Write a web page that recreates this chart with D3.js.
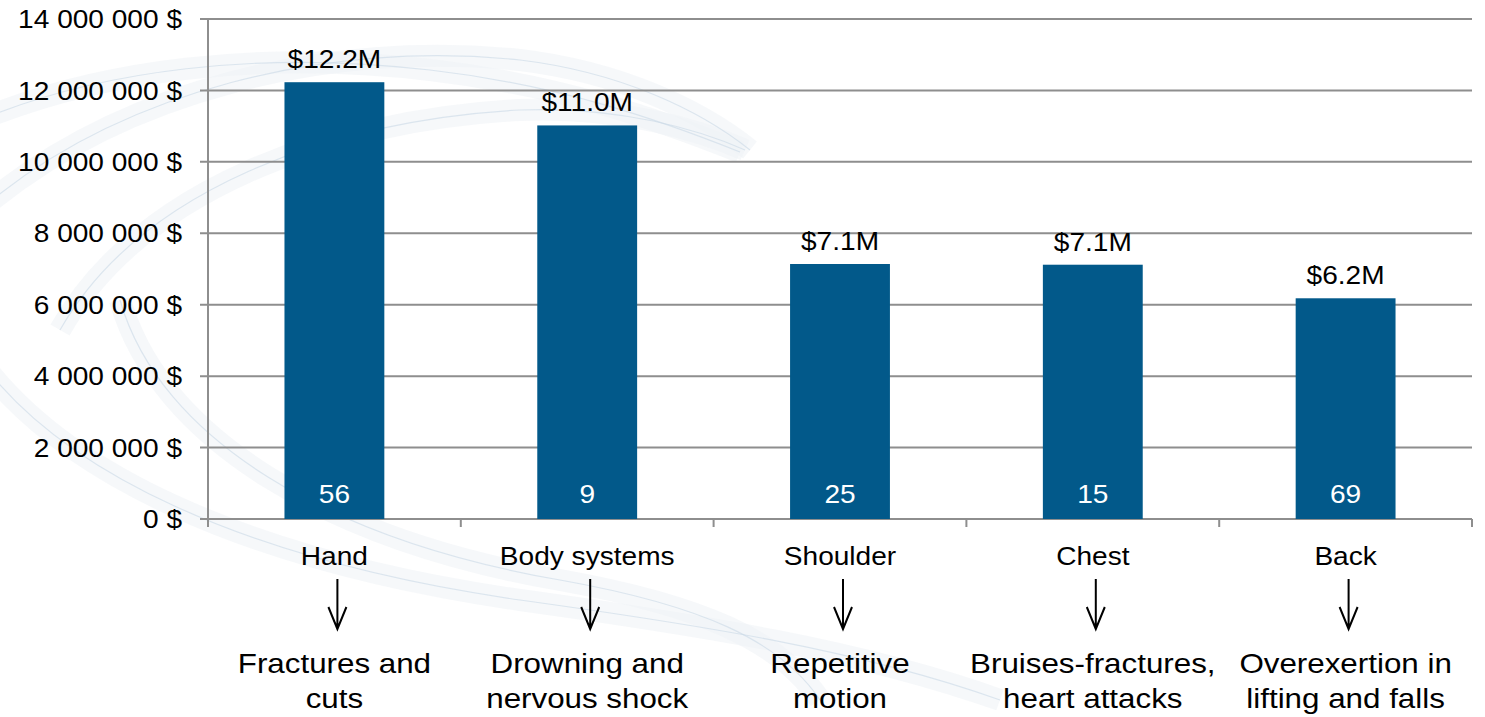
<!DOCTYPE html>
<html>
<head>
<meta charset="utf-8">
<script src="https://cdn.jsdelivr.net/npm/d3@7"></script>
<style>
  html, body { margin: 0; padding: 0; background: #fff; }
  svg { display: block; font-family: "Liberation Sans", Arial, sans-serif; }
</style>
</head>
<body>
<div id="chart"></div>
<script>
// data
var categories = ["Hand", "Body systems", "Shoulder", "Chest", "Back"];
var costs = [12230000, 11020000, 7140000, 7120000, 6180000];
var costLabels = ["$12.2M", "$11.0M", "$7.1M", "$7.1M", "$6.2M"];
var claimCounts = [56, 9, 25, 15, 69];
var causes = [
  ["Fractures and", "cuts"],
  ["Drowning and", "nervous shock"],
  ["Repetitive", "motion"],
  ["Bruises-fractures,", "heart attacks"],
  ["Overexertion in", "lifting and falls"]
];
var yTicks = [0, 2000000, 4000000, 6000000, 8000000, 10000000, 12000000, 14000000];

var W = 1485, H = 717,
    margin = {top: 19, right: 13, bottom: 198, left: 208},
    width = W - margin.left - margin.right,
    height = H - margin.top - margin.bottom,
    sx = 1.08; // text in the picture is stretched a bit sideways

var barColor = "#02598a", gridColor = "#8e8e8e";

var data = categories.map(function(c, i){
  return {cat: c, cost: costs[i], label: costLabels[i], n: claimCounts[i], cause: causes[i]};
});

var x = d3.scaleBand().domain(categories).range([0, width])
          .paddingInner(0.605).paddingOuter(0.3025);
var band = d3.scaleBand().domain(categories).range([0, width]);
var y = d3.scaleLinear().domain([0, 14000000]).range([height, 0]);

var svg = d3.select("#chart").append("svg").attr("width", W).attr("height", H);

// faint swirl in the background
var swirl = svg.append("g").attr("fill", "none");
var bands = [
  "M-20,210 C120,90 330,40 520,60 C620,72 700,110 750,150",
  "M-20,120 C100,70 260,50 430,70 C560,85 660,120 740,152",
  "M60,330 C140,190 330,120 520,110 C620,106 700,130 745,150",
  "M-20,360 C60,470 240,560 520,600 C700,625 860,650 1000,700",
  "M120,300 C160,440 330,540 560,580 C700,605 780,640 820,700"
];
swirl.selectAll("path.soft").data(bands).enter().append("path")
  .attr("class", "soft")
  .attr("d", function(d){ return d; })
  .attr("stroke", "#eef2f6").attr("stroke-width", 22).attr("stroke-opacity", 0.55);
swirl.selectAll("path.line").data(bands).enter().append("path")
  .attr("class", "line")
  .attr("d", function(d){ return d; })
  .attr("stroke", "#c9d9e6").attr("stroke-width", 1.2).attr("stroke-opacity", 0.6);

var g = svg.append("g").attr("transform", "translate(" + margin.left + "," + margin.top + ")");

// gridlines
g.selectAll(".grid").data(yTicks).enter().append("line")
  .attr("x1", -8).attr("x2", width)
  .attr("y1", function(d){ return y(d); }).attr("y2", function(d){ return y(d); })
  .attr("stroke", gridColor).attr("stroke-width", 2);

// y axis line
g.append("line").attr("x1", 0).attr("x2", 0).attr("y1", 0).attr("y2", height + 8)
  .attr("stroke", gridColor).attr("stroke-width", 2);

// x axis ticks at band edges
var edges = categories.map(function(c){ return band(c); }).concat([width]);
g.selectAll(".xtick").data(edges).enter().append("line")
  .attr("x1", function(d){ return d; }).attr("x2", function(d){ return d; })
  .attr("y1", height).attr("y2", height + 8)
  .attr("stroke", gridColor).attr("stroke-width", 2);

function stretched(sel, fx, fy, s){
  return sel.attr("transform", function(d, i){
    return "translate(" + fx(d, i) + "," + fy(d, i) + ") scale(" + (s || sx) + ",1)";
  });
}

// y tick labels
var fmt = function(v){ return d3.format(",")(v).replace(/,/g, " ") + " $"; };
stretched(g.selectAll(".ylab").data(yTicks).enter().append("text"),
    function(){ return -26; }, function(d){ return y(d); })
  .attr("text-anchor", "end").attr("dy", "0.35em")
  .attr("font-size", 26).attr("fill", "#000")
  .text(fmt);

// bars
g.selectAll(".bar").data(data).enter().append("rect")
  .attr("x", function(d){ return x(d.cat); })
  .attr("y", function(d){ return y(d.cost); })
  .attr("width", x.bandwidth())
  .attr("height", function(d){ return height - y(d.cost); })
  .attr("fill", barColor);

var cx = function(d){ return x(d.cat) + x.bandwidth() / 2; };

// value labels above bars
stretched(g.selectAll(".val").data(data).enter().append("text"),
    cx, function(d){ return y(d.cost) - 14; })
  .attr("text-anchor", "middle").attr("font-size", 26).attr("fill", "#000")
  .text(function(d){ return d.label; });

// counts inside bars
stretched(g.selectAll(".cnt").data(data).enter().append("text"),
    cx, function(){ return height - 16; })
  .attr("text-anchor", "middle").attr("font-size", 26).attr("fill", "#fff")
  .text(function(d){ return d.n; });

// category labels
stretched(g.selectAll(".cat").data(data).enter().append("text"),
    cx, function(){ return height + 46; })
  .attr("text-anchor", "middle").attr("font-size", 26).attr("fill", "#000")
  .text(function(d){ return d.cat; });

// arrows
var arrows = g.selectAll(".arrow").data(data).enter().append("g")
  .attr("transform", function(d){ return "translate(" + (cx(d) + 3) + "," + (height + 60) + ")"; });
arrows.append("path")
  .attr("d", "M0,0 L0,50 M-9,28 L0,50 L9,28")
  .attr("fill", "none").attr("stroke", "#000").attr("stroke-width", 2);

// cause text, two lines
var causeG = g.selectAll(".cause").data(data).enter().append("g");
[0, 1].forEach(function(k){
  stretched(causeG.append("text"),
      cx, function(){ return height + 154 + k * 35; }, 1.1)
    .attr("text-anchor", "middle").attr("font-size", 28.5).attr("fill", "#000")
    .text(function(d){ return d.cause[k]; });
});
</script>
</body>
</html>
